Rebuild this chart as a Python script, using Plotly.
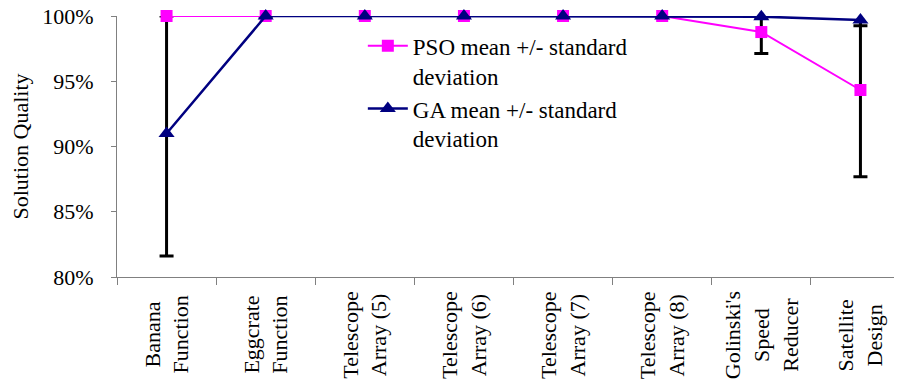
import plotly.graph_objects as go

categories = ["Banana<br>Function", "Eggcrate<br>Function", "Telescope<br>Array (5)",
              "Telescope<br>Array (6)", "Telescope<br>Array (7)", "Telescope<br>Array (8)",
              "Golinski's<br>Speed<br>Reducer", "Satellite<br>Design"]

pso_mean = [1.000, 1.000, 1.000, 1.000, 1.000, 1.000, 0.9877, 0.9433]
pso_err_plus = [0.0, 0.0, 0.0, 0.0, 0.0, 0.0, 0.0161, 0.0613]
pso_err_minus = [0.0, 0.0, 0.0, 0.0, 0.0, 0.0, 0.0164, 0.0664]

ga_mean = [0.910, 1.000, 1.000, 1.000, 1.000, 1.000, 0.9995, 0.9970]
ga_err_plus = [0.094, 0.0, 0.0, 0.0, 0.0, 0.0, 0.0004, 0.0045]
ga_err_minus = [0.094, 0.0, 0.0, 0.0, 0.0, 0.0, 0.0004, 0.0045]

y_ticks = [0.80, 0.85, 0.90, 0.95, 1.00]
y_tick_labels = ["80%", "85%", "90%", "95%", "100%"]

FONT = "Times New Roman, Liberation Serif, DejaVu Serif, serif"
PINK = "#FF00FF"
NAVY = "#000080"

fig = go.Figure()

# Error bars first so they sit beneath the markers
for mean, ep, em in [(ga_mean, ga_err_plus, ga_err_minus), (pso_mean, pso_err_plus, pso_err_minus)]:
    fig.add_trace(go.Scatter(
        x=categories, y=mean, mode="markers",
        marker=dict(size=1, color="rgba(0,0,0,0)"),
        error_y=dict(type="data", symmetric=False, array=ep, arrayminus=em,
                     color="black", thickness=3, width=7),
        showlegend=False, hoverinfo="skip", cliponaxis=False,
    ))

fig.add_trace(go.Scatter(
    x=categories, y=pso_mean, mode="lines+markers",
    name="PSO mean +/- standard<br>deviation",
    line=dict(color=PINK, width=2),
    marker=dict(symbol="square", size=12, color=PINK),
    cliponaxis=False, legendgroup="pso",
))
fig.add_trace(go.Scatter(
    x=categories, y=ga_mean, mode="lines+markers",
    name="GA mean +/- standard<br>deviation",
    line=dict(color=NAVY, width=2.5),
    marker=dict(symbol="triangle-up", size=14, color=NAVY),
    cliponaxis=False, legendgroup="ga",
))

for c in categories:
    fig.add_annotation(
        x=c, xref="x", y=-0.222, yref="paper", text=c, textangle=-90,
        showarrow=False, align="center", xanchor="center", yanchor="middle",
        font=dict(family=FONT, size=22, color="black"),
    )

fig.update_layout(
    width=902, height=380,
    margin=dict(l=109, r=0, t=8, b=111, autoexpand=False),
    paper_bgcolor="white", plot_bgcolor="white",
    font=dict(family=FONT, size=22, color="black"),
    showlegend=True,
    legend=dict(x=0.31, y=0.968, xanchor="left", yanchor="top",
                bgcolor="rgba(0,0,0,0)", font=dict(family=FONT, size=23),
                valign="top", tracegroupgap=0, itemwidth=40),
    xaxis=dict(type="category", range=[-0.5, 7.5], showgrid=False,
               showline=True, linecolor="#808080", linewidth=1,
               ticks="outside", tickson="boundaries", ticklen=7, tickcolor="#808080",
               showticklabels=False, zeroline=False, automargin=False),
    yaxis=dict(range=[0.80, 1.00], tickvals=y_ticks, ticktext=y_tick_labels,
               showgrid=False, showline=True, linecolor="#808080", linewidth=1,
               ticks="outside", ticklen=5, tickcolor="#808080",
               ticklabelstandoff=13, zeroline=False, ticklabeloverflow="allow",
               automargin=False, tickfont=dict(family=FONT, size=22),
               title=dict(text="Solution Quality", standoff=14,
                          font=dict(family=FONT, size=22))),
)

fig.write_html("out.html")
